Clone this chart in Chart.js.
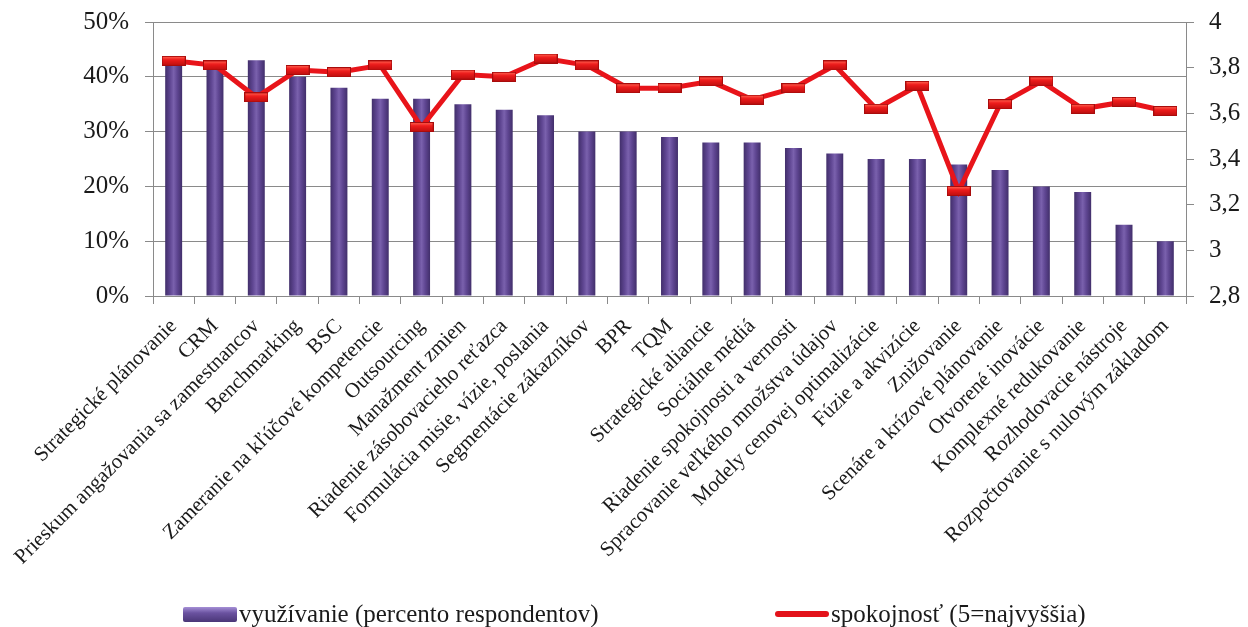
<!DOCTYPE html>
<html>
<head>
<meta charset="utf-8">
<script src="https://cdn.jsdelivr.net/npm/chart.js@4/dist/chart.umd.min.js"></script>
<style>
    html, body { margin: 0; padding: 0; background: #fff; }
    #wrap { position: relative; width: 1248px; height: 627px; }
    #legend { position: absolute; left: 0; top: 599px; width: 1248px; height: 30px;
        font-family: "Liberation Serif", "Times New Roman", serif; font-size: 25px; color: #1a1a1a; }
    .item { position: absolute; top: 0; white-space: nowrap; line-height: 30px; }
    .sw { display: inline-block; vertical-align: middle; }
</style>
</head>
<body>
<div id="wrap">
    <canvas id="myChart" width="1248" height="627"></canvas>
    <div id="legend">
        <div class="item" style="left:183px"><span class="sw" style="width:54px;height:15px;margin-top:-4px;background:linear-gradient(#a58fd6,#6a52a0 40%,#4a3677);border-radius:2px"></span><span style="margin-left:2px">využívanie (percento respondentov)</span></div>
        <div class="item" style="left:775px"><span class="sw" style="width:54px;height:6px;margin-top:-4px;background:#e3121a;border-radius:3px"></span><span style="margin-left:2px">spokojnosť (5=najvyššia)</span></div>
    </div>
</div>
<script>
// setup
const categories = [
    'Strategické plánovanie',
    'CRM',
    'Prieskum angažovania sa zamestnancov',
    'Benchmarking',
    'BSC',
    'Zameranie na kľúčové kompetencie',
    'Outsourcing',
    'Manažment zmien',
    'Riadenie zásobovacieho reťazca',
    'Formulácia misie, vízie, poslania',
    'Segmentácie zákazníkov',
    'BPR',
    'TQM',
    'Strategické aliancie',
    'Sociálne médiá',
    'Riadenie spokojnosti a vernosti',
    'Spracovanie veľkého množstva údajov',
    'Modely cenovej optimalizácie',
    'Fúzie a akvizície',
    'Znižovanie',
    'Scenáre a krízové plánovanie',
    'Otvorené inovácie',
    'Komplexné redukovanie',
    'Rozhodovacie nástroje',
    'Rozpočtovanie s nulovým základom'
];
// percent of respondents
const usage = [43, 43, 43, 40, 38, 36, 36, 35, 34, 33, 30, 30, 29, 28, 28, 27, 26, 25, 25, 24, 23, 20, 19, 13, 10];
// satisfaction, 5 = highest
const satisfaction = [3.83, 3.81, 3.67, 3.79, 3.78, 3.81, 3.54, 3.77, 3.76, 3.84, 3.81, 3.71, 3.71, 3.74, 3.66,
    3.71, 3.81, 3.62, 3.72, 3.26, 3.64, 3.74, 3.62, 3.65, 3.61];
const usageTicks = [0, 10, 20, 30, 40, 50];
const satisfactionTicks = [2.8, 3, 3.2, 3.4, 3.6, 3.8, 4];

const serif = '"Liberation Serif", "Times New Roman", serif';
const gridColor = '#8a8a8a';

// marker for the line: small flat red brick
function makeMarker() {
    const c = document.createElement('canvas');
    c.width = 24;
    c.height = 10;
    const g = c.getContext('2d');
    g.fillStyle = '#a80c0c';
    g.fillRect(0, 0, 24, 10);
    const grad = g.createLinearGradient(0, 1, 0, 9);
    grad.addColorStop(0, '#ff5a4a');
    grad.addColorStop(0.35, '#ee1c1c');
    grad.addColorStop(1, '#c31010');
    g.fillStyle = grad;
    g.fillRect(1, 1, 22, 8);
    return c;
}
const marker = makeMarker();

// bar fill with a lighter middle stripe
function barFill(ctx) {
    const chart = ctx.chart;
    const xs = chart.scales.x;
    if (!xs || ctx.dataIndex === undefined) return '#5f4693';
    const x = xs.getPixelForValue(ctx.dataIndex);
    if (!isFinite(x)) return '#5f4693';
    const g = chart.ctx.createLinearGradient(x - 9, 0, x + 9, 0);
    g.addColorStop(0, '#3e2c66');
    g.addColorStop(0.3, '#5f4692');
    g.addColorStop(0.5, '#7a61ad');
    g.addColorStop(0.7, '#5f4692');
    g.addColorStop(1, '#3e2c66');
    return g;
}

const data = {
    labels: categories,
    datasets: [{
        type: 'line',
        label: 'spokojnosť (5=najvyššia)',
        data: satisfaction,
        yAxisID: 'y2',
        borderColor: '#e8141a',
        borderWidth: 5,
        tension: 0,
        pointStyle: marker,
        pointRadius: 10,
        order: 0
    }, {
        type: 'bar',
        label: 'využívanie (percento respondentov)',
        data: usage,
        yAxisID: 'y',
        backgroundColor: barFill,
        borderWidth: 0,
        categoryPercentage: 1,
        barPercentage: 0.41,
        order: 1
    }]
};

// config
// small lineHeight on the y tick fonts keeps the plot top near y=22
const config = {
    data,
    options: {
        responsive: false,
        animation: false,
        layout: { autoPadding: false, padding: { top: 22, left: 0, right: 0, bottom: 0 } },
        plugins: {
            legend: { display: false },
            tooltip: { enabled: false }
        },
        scales: {
            x: {
                offset: true,
                grid: { display: true, drawOnChartArea: false, offset: true, color: gridColor, tickLength: 8 },
                border: { color: gridColor },
                ticks: {
                    autoSkip: false,
                    maxRotation: 45,
                    minRotation: 45,
                    padding: 10,
                    color: '#1a1a1a',
                    font: { family: serif, size: 21 }
                },
                afterFit: function (scale) { scale.height = 331; }
            },
            y: {
                position: 'left',
                min: 0,
                max: 50,
                afterBuildTicks: function (scale) { scale.ticks = usageTicks.map(v => ({ value: v })); },
                grid: { color: gridColor, tickLength: 8 },
                border: { color: gridColor },
                ticks: {
                    padding: 16,
                    color: '#1a1a1a',
                    font: { family: serif, size: 25, lineHeight: 0.48 },
                    callback: v => v + '%'
                },
                afterFit: function (scale) { scale.width = 153; }
            },
            y2: {
                position: 'right',
                min: 2.8,
                max: 4,
                afterBuildTicks: function (scale) { scale.ticks = satisfactionTicks.map(v => ({ value: v })); },
                grid: { drawOnChartArea: false, color: gridColor, tickLength: 8 },
                border: { color: gridColor },
                ticks: {
                    padding: 15,
                    color: '#1a1a1a',
                    font: { family: serif, size: 25, lineHeight: 0.48 },
                    callback: v => String(Math.round(v * 10) / 10).replace('.', ',')
                },
                afterFit: function (scale) { scale.width = 62; }
            }
        }
    }
};

// render init block
const myChart = new Chart(
    document.getElementById('myChart'),
    config
);
</script>
</body>
</html>
